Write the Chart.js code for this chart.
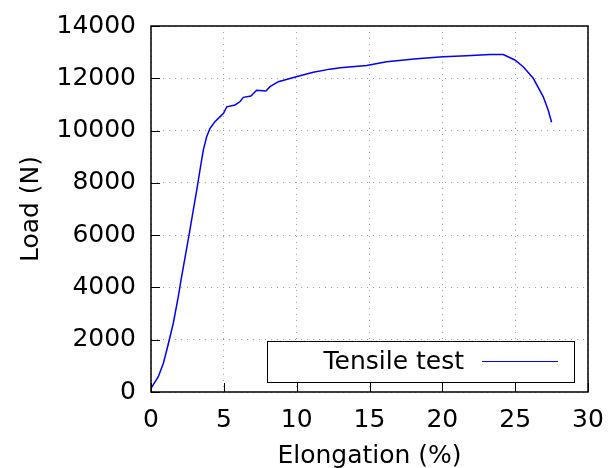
<!DOCTYPE html>
<html>
<head>
<meta charset="utf-8">
<script src="https://cdn.jsdelivr.net/npm/chart.js@4/dist/chart.umd.min.js"></script>
<style>
  html, body { margin: 0; padding: 0; background: #fff; }
  #wrap { width: 609px; height: 468px; }
</style>
</head>
<body>
<div id="wrap"><canvas id="chart"></canvas></div>
<script>
// tensile test curve
const elongation = [0, 0.5, 0.85, 1.14, 1.53, 1.87, 2.06, 2.61, 3.02, 3.14, 3.36, 3.59, 3.82, 4.05, 4.39, 4.85, 4.98, 5.2, 5.77, 6.1, 6.34, 6.86, 7.25, 7.89, 8.17, 8.74, 10.1, 11.14, 12.29, 13.0, 14.8, 16.18, 18.24, 20.06, 21.67, 23.27, 24.18, 24.98, 25.55, 26.24, 26.93, 27.27, 27.5];
const load = [140, 585, 1100, 1730, 2630, 3640, 4280, 6000, 7340, 7720, 8490, 9250, 9760, 10080, 10340, 10590, 10660, 10910, 10980, 11100, 11270, 11320, 11540, 11510, 11680, 11870, 12080, 12230, 12350, 12400, 12490, 12630, 12750, 12820, 12860, 12910, 12910, 12700, 12440, 12000, 11290, 10780, 10320];
const tickX = [0, 5, 10, 15, 20, 25, 30];
const tickY = [0, 2000, 4000, 6000, 8000, 10000, 12000, 14000];
const seriesName = "Tensile test";
const xTitle = "Elongation (%)";
const yTitle = "Load (N)";

const FONT = "'DejaVu Sans', sans-serif";
const points = elongation.map((x, i) => ({ x: x, y: load[i] }));

// box round the plot, inward ticks, legend inside
const frame = {
  id: "frame",
  afterDatasetsDraw(chart) {
    const { ctx } = chart;
    // legend box
    const bx = 267, by = 341, bw = 307, bh = 41;
    ctx.save();
    ctx.fillStyle = "#fff";
    ctx.fillRect(bx, by, bw, bh);
    ctx.strokeStyle = "#000";
    ctx.lineWidth = 1;
    ctx.strokeRect(bx + 0.5, by + 0.5, bw, bh);
    ctx.font = "25px " + FONT;
    ctx.fillStyle = "#000";
    ctx.textAlign = "right";
    ctx.textBaseline = "middle";
    ctx.fillText(seriesName, 464, by + bh / 2 + 1);
    ctx.strokeStyle = "#0000ff";
    ctx.beginPath();
    ctx.moveTo(482, 361.5);
    ctx.lineTo(558, 361.5);
    ctx.stroke();
    ctx.restore();
  },
  afterDraw(chart) {
    const { ctx, chartArea: a, scales } = chart;
    ctx.save();
    ctx.strokeStyle = "#000";
    ctx.lineWidth = 1;
    ctx.beginPath();
    tickX.forEach(v => {
      const px = Math.round(scales.x.getPixelForValue(v)) + 0.5;
      ctx.moveTo(px, a.bottom);
      ctx.lineTo(px, a.bottom - 9);
    });
    tickY.forEach(v => {
      const py = Math.round(scales.y.getPixelForValue(v)) + 0.5;
      ctx.moveTo(a.left, py);
      ctx.lineTo(a.left + 9, py);
    });
    ctx.stroke();
    ctx.lineWidth = 1.5;
    ctx.strokeRect(a.left, a.top, a.right - a.left, a.bottom - a.top);
    ctx.restore();
  }
};

new Chart(document.getElementById("chart"), {
  type: "scatter",
  data: {
    datasets: [{
      label: seriesName,
      data: points,
      showLine: true,
      borderColor: "#0000ff",
      borderWidth: 1.5,
      pointRadius: 0,
      tension: 0,
      fill: false
    }]
  },
  options: {
    responsive: true,
    maintainAspectRatio: false,
    animation: false,
    layout: { padding: { top: 26, right: 21, left: 0, bottom: 0 } },
    plugins: {
      legend: { display: false },
      tooltip: { enabled: false }
    },
    scales: {
      x: {
        type: "linear",
        min: tickX[0],
        max: tickX[tickX.length - 1],
        afterBuildTicks(scale) { scale.ticks = tickX.map(v => ({ value: v })); },
        ticks: { padding: 13, color: "#000", font: { family: FONT, size: 25 }, callback: v => String(v) },
        grid: { color: "#a0a0a0", drawTicks: false, lineWidth: 1 },
        border: { display: false, dash: [1, 5] },
        title: { display: true, text: xTitle, color: "#000", font: { family: FONT, size: 25 }, padding: { top: 0, bottom: -3 } },
        afterFit(scale) {
          scale.height = 76;
          scale.paddingLeft = 0;
          scale.paddingRight = 0;
        }
      },
      y: {
        min: tickY[0],
        max: tickY[tickY.length - 1],
        afterBuildTicks(scale) { scale.ticks = tickY.map(v => ({ value: v })); },
        ticks: { padding: 15, color: "#000", font: { family: FONT, size: 25 }, callback: v => String(v) },
        grid: { color: "#a0a0a0", drawTicks: false, lineWidth: 1 },
        border: { display: false, dash: [1, 5] },
        title: { display: true, text: yTitle, color: "#000", font: { family: FONT, size: 25 }, padding: { top: 16, bottom: 0 } },
        afterFit(scale) {
          scale.width = 151;
          scale.paddingTop = 0;
          scale.paddingBottom = 0;
        }
      }
    }
  },
  plugins: [frame]
});
</script>
</body>
</html>
